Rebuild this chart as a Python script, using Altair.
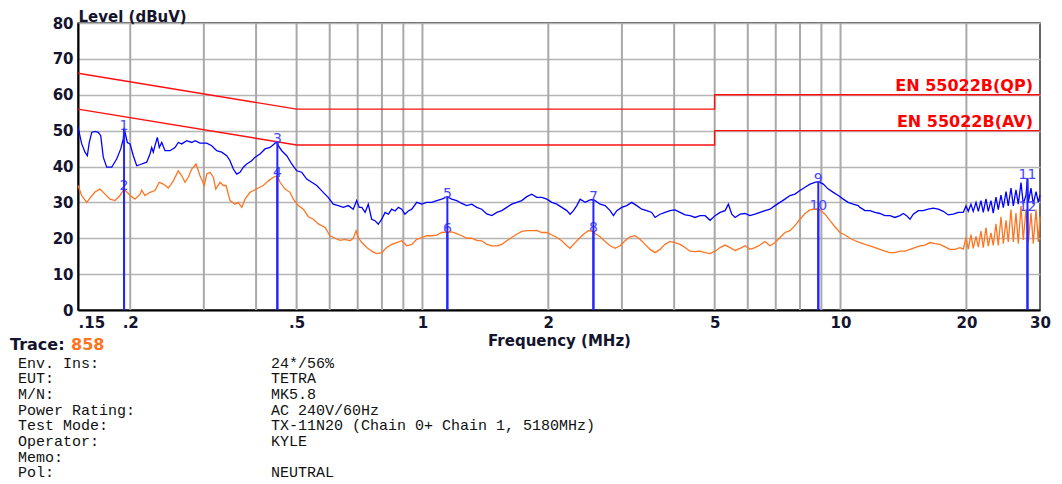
import altair as alt
import pandas as pd

# ---------------- data ----------------
qp_freq = [
    0.150, 0.1531, 0.1559, 0.1579, 0.1596, 0.1618, 0.1647, 0.1677, 0.1700, 0.1724,
    0.1757, 0.1806, 0.1856, 0.1898, 0.1925, 0.1933, 0.1968, 0.1998, 0.2034, 0.2073,
    0.2130, 0.2190, 0.2230, 0.2251, 0.2271, 0.2292, 0.2322, 0.2347, 0.2379, 0.2422,
    0.2490, 0.2559, 0.2606, 0.2656, 0.2730, 0.2806, 0.2858, 0.2937, 0.3048, 0.3133,
    0.3220, 0.3310, 0.3403, 0.3465, 0.3529, 0.3595, 0.3661, 0.3729, 0.3799, 0.3905,
    0.3977, 0.4088, 0.4202, 0.4319, 0.4440, 0.4497, 0.4521, 0.4607, 0.4736, 0.4868,
    0.5004, 0.5143, 0.5287, 0.5435, 0.5587, 0.579, 0.595, 0.612, 0.629, 0.647,
    0.665, 0.683, 0.696, 0.706, 0.716, 0.729, 0.742, 0.756, 0.770, 0.784,
    0.799, 0.814, 0.829, 0.844, 0.860, 0.876, 0.892, 0.908, 0.925, 0.943,
    0.969, 0.996, 1.024, 1.053, 1.082, 1.112, 1.147, 1.175, 1.208, 1.242,
    1.276, 1.312, 1.349, 1.386, 1.425, 1.465, 1.506, 1.548, 1.591, 1.635,
    1.681, 1.728, 1.776, 1.826, 1.877, 1.929, 1.984, 2.039, 2.096, 2.154,
    2.215, 2.255, 2.297, 2.340, 2.383, 2.450, 2.518, 2.564, 2.660, 2.735,
    2.811, 2.863, 2.917, 2.997, 3.080, 3.167, 3.255, 3.346, 3.439, 3.535,
    3.600, 3.700, 3.804, 3.910, 4.020, 4.132, 4.248, 4.366, 4.488, 4.613,
    4.742, 4.875, 5.011, 5.151, 5.295, 5.392, 5.494, 5.595, 5.751, 5.912,
    6.073, 6.243, 6.418, 6.597, 6.781, 6.971, 7.164, 7.364, 7.570, 7.781,
    8.000, 8.223, 8.453, 8.689, 8.848, 9.094, 9.348, 9.610, 9.878, 10.15,
    10.43, 10.72, 11.02, 11.13, 11.44, 11.76, 12.09, 12.42, 12.77, 13.13,
    13.49, 13.87, 14.13, 14.39, 14.66, 14.93, 15.34, 15.77, 16.21, 16.66,
    17.13, 17.61, 18.10, 18.61, 19.13, 19.66, 19.96, 20.21, 20.51, 20.77,
    21.09, 21.36, 21.67, 21.95, 22.28, 22.56, 22.90, 23.19, 23.54, 23.84,
    24.20, 24.51, 24.88, 25.19, 25.57, 25.90, 26.28, 26.62, 27.02, 27.36,
    27.77, 28.00, 28.13, 28.55, 28.91, 29.35, 29.72, 30.0,
]
qp_level = [
    51.0, 46.3, 44.0, 43.0, 46.7, 49.5, 49.8, 49.5, 48.6, 42.6,
    39.8, 39.8, 42.1, 44.9, 47.7, 50.8, 46.7, 46.3, 43.0, 40.2,
    40.7, 41.2, 43.5, 45.3, 44.0, 45.8, 48.1, 45.3, 46.7, 44.4,
    44.4, 45.3, 46.7, 46.3, 47.2, 46.7, 47.2, 46.5, 46.5, 45.8,
    44.4, 44.0, 43.0, 41.6, 39.3, 37.9, 38.4, 39.8, 40.7, 41.6,
    42.6, 43.5, 44.9, 45.3, 46.5, 46.8, 45.8, 44.4, 43.0, 40.7,
    38.8, 38.4, 36.5, 35.6, 34.7, 32.8, 31.4, 29.5, 29.1, 28.6,
    29.1, 28.1, 30.5, 28.6, 28.6, 27.2, 29.5, 25.3, 24.9, 23.9,
    25.3, 27.2, 26.7, 28.1, 27.6, 28.6, 28.1, 26.7, 27.6, 28.1,
    30.0, 29.5, 30.0, 30.0, 30.5, 30.9, 31.6, 30.9, 30.5, 29.7,
    29.1, 29.5, 28.6, 28.1, 26.8, 26.3, 27.2, 27.7, 28.6, 29.5,
    30.0, 30.5, 31.6, 32.3, 31.4, 31.4, 30.9, 30.0, 29.5, 28.6,
    27.7, 26.7, 27.7, 29.1, 30.9, 30.0, 30.7, 30.8, 29.5, 29.1,
    27.7, 26.3, 27.7, 28.6, 29.1, 30.0, 29.1, 28.1, 27.7, 27.2,
    25.8, 26.7, 27.2, 27.7, 27.9, 27.2, 26.5, 26.3, 25.8, 26.3,
    26.3, 25.0, 26.3, 27.2, 27.7, 29.5, 26.7, 25.8, 26.7, 26.9,
    26.3, 26.7, 27.2, 27.7, 28.1, 29.1, 30.0, 30.9, 31.9, 32.3,
    33.3, 34.2, 35.1, 35.6, 35.8, 35.1, 33.7, 32.8, 31.9, 30.9,
    30.0, 29.5, 29.1, 28.6, 27.7, 27.7, 27.2, 26.9, 26.3, 26.3,
    25.8, 26.3, 26.9, 26.3, 25.3, 26.7, 27.7, 27.7, 28.1, 28.4,
    28.1, 27.5, 26.5, 26.7, 27.2, 27.2, 29.0, 27.5, 29.5, 27.5,
    30.0, 27.5, 30.5, 27.2, 31.0, 27.5, 30.5, 27.0, 31.5, 28.0,
    32.0, 28.5, 33.0, 29.0, 34.0, 29.0, 33.5, 29.5, 35.5, 29.5,
    32.0, 36.8, 30.0, 34.0, 29.5, 33.0, 30.0, 32.0,
]

av_freq = [
    0.150, 0.1531, 0.1574, 0.1602, 0.1647, 0.1693, 0.1741, 0.1789, 0.1839, 0.1890,
    0.1933, 0.1998, 0.2053, 0.2111, 0.2130, 0.2170, 0.2230, 0.2292, 0.2347, 0.2400,
    0.2467, 0.2536, 0.2606, 0.2656, 0.2704, 0.2754, 0.2806, 0.2873, 0.2937, 0.3008,
    0.3048, 0.3104, 0.3161, 0.3203, 0.3280, 0.3340, 0.3390, 0.3465, 0.3562, 0.3627,
    0.3696, 0.3764, 0.3869, 0.3940, 0.4050, 0.4163, 0.4279, 0.4399, 0.4497, 0.4564,
    0.4692, 0.4822, 0.4911, 0.5048, 0.5189, 0.5334, 0.5483, 0.5636, 0.585, 0.601,
    0.618, 0.635, 0.653, 0.671, 0.683, 0.694, 0.702, 0.716, 0.736, 0.756,
    0.777, 0.799, 0.821, 0.844, 0.868, 0.892, 0.917, 0.943, 0.969, 0.996,
    1.024, 1.053, 1.082, 1.112, 1.147, 1.175, 1.208, 1.242, 1.276, 1.312,
    1.349, 1.386, 1.425, 1.465, 1.506, 1.548, 1.591, 1.635, 1.681, 1.728,
    1.776, 1.826, 1.877, 1.929, 1.984, 2.039, 2.096, 2.154, 2.215, 2.255,
    2.297, 2.361, 2.427, 2.494, 2.564, 2.588, 2.660, 2.735, 2.811, 2.890,
    2.969, 3.052, 3.137, 3.224, 3.314, 3.407, 3.503, 3.600, 3.700, 3.804,
    3.910, 4.020, 4.132, 4.248, 4.366, 4.488, 4.613, 4.742, 4.875, 5.011,
    5.151, 5.295, 5.443, 5.595, 5.751, 5.912, 6.073, 6.243, 6.418, 6.597,
    6.781, 6.971, 7.164, 7.364, 7.570, 7.781, 8.000, 8.223, 8.453, 8.689,
    8.848, 8.931, 9.180, 9.437, 9.700, 9.967, 10.25, 10.53, 10.83, 11.13,
    11.44, 11.76, 12.09, 12.42, 12.77, 13.13, 13.49, 13.87, 14.26, 14.66,
    15.07, 15.49, 15.92, 16.37, 16.82, 17.29, 17.78, 18.27, 18.78, 19.31,
    19.66, 19.96, 20.21, 20.51, 20.77, 21.09, 21.36, 21.67, 21.95, 22.28,
    22.56, 22.90, 23.19, 23.54, 23.84, 24.20, 24.51, 24.88, 25.19, 25.57,
    25.90, 26.28, 26.62, 27.02, 27.36, 27.77, 28.13, 28.55, 28.91, 29.35,
    29.72, 30.0,
]
av_level = [
    34.7, 31.9, 30.0, 31.2, 32.9, 33.7, 32.3, 30.9, 30.5, 31.9,
    33.7, 31.9, 30.9, 32.3, 33.4, 31.9, 32.8, 33.3, 35.6, 35.1,
    34.0, 36.0, 38.8, 37.4, 35.6, 37.0, 39.3, 40.7, 37.4, 34.7,
    37.9, 38.4, 37.0, 33.7, 35.6, 34.7, 34.7, 30.5, 29.5, 30.0,
    28.6, 30.9, 32.8, 33.3, 34.0, 34.7, 36.0, 37.0, 37.4, 35.6,
    33.7, 32.8, 30.9, 29.1, 28.1, 26.0, 25.3, 24.0, 23.0, 20.7,
    20.0, 19.4, 19.7, 19.3, 20.0, 22.1, 20.2, 18.8, 17.4, 16.4,
    15.7, 16.0, 17.4, 18.3, 18.8, 19.3, 17.9, 18.3, 19.7, 20.2,
    20.7, 20.7, 20.9, 21.6, 21.7, 21.8, 21.3, 20.7, 20.0, 20.0,
    19.4, 19.3, 18.3, 17.9, 17.9, 18.3, 19.3, 20.2, 21.1, 21.9,
    22.1, 22.1, 22.2, 21.6, 21.6, 20.9, 20.2, 19.3, 17.9, 17.2,
    18.3, 19.7, 21.1, 22.1, 22.0, 21.3, 20.4, 19.1, 17.9, 17.2,
    17.9, 19.3, 20.4, 20.7, 19.7, 18.3, 16.9, 16.0, 16.9, 18.3,
    19.1, 18.8, 18.3, 17.4, 16.4, 16.3, 16.4, 16.0, 15.7, 16.4,
    17.4, 18.1, 17.4, 16.6, 17.2, 17.9, 16.9, 17.4, 18.1, 19.1,
    17.9, 18.8, 20.2, 21.6, 22.1, 23.5, 25.3, 26.9, 27.9, 28.1,
    28.2, 27.9, 26.7, 24.9, 23.2, 21.6, 20.9, 20.0, 19.3, 18.8,
    18.3, 17.9, 17.4, 16.9, 16.4, 16.0, 16.0, 16.4, 16.4, 16.9,
    17.4, 17.9, 18.1, 18.8, 18.5, 18.3, 17.6, 16.9, 16.9, 17.4,
    17.0, 20.2, 17.0, 21.0, 17.2, 20.5, 17.5, 22.0, 17.4, 23.0,
    17.8, 21.5, 18.0, 24.0, 18.0, 26.0, 18.5, 25.0, 19.0, 28.0,
    19.0, 27.0, 18.5, 29.0, 19.5, 28.0, 19.0, 27.0, 18.5, 28.0,
    19.0, 26.0,
]

limit_freq = [0.15, 0.5, 5, 5, 30]
qp_limit = [66, 56, 56, 60, 60]
av_limit = [56, 46, 46, 50, 50]
limit_names = ["EN 55022B(QP)", "EN 55022B(AV)"]

marker_no = ["1", "2", "3", "4", "5", "6", "7", "8", "9", "10", "11", "12"]
marker_freq = [0.1933, 0.1933, 0.4497, 0.4497, 1.147, 1.147, 2.564, 2.564, 8.848, 8.848, 28.0, 28.0]
marker_level = [50.4, 33.7, 46.8, 37.4, 31.4, 21.7, 30.6, 22.0, 35.6, 28.2, 36.8, 28.0]

grid_freqs = [0.2, 0.3, 0.4, 0.5, 0.6, 0.7, 0.8, 0.9, 1, 2, 3, 4, 5, 6, 7, 8, 9, 10, 20]
tick_freqs = [0.15, 0.2, 0.5, 1, 2, 5, 10, 20, 30]
level_ticks = [0, 10, 20, 30, 40, 50, 60, 70, 80]

trace_no = "858"
info_labels = ["Env. Ins:", "EUT:", "M/N:", "Power Rating:", "Test Mode:", "Operator:", "Memo:", "Pol:"]
info_values = ["24*/56%", "TETRA", "MK5.8", "AC 240V/60Hz",
               "TX-11N20 (Chain 0+ Chain 1, 5180MHz)", "KYLE", "", "NEUTRAL"]

# ---------------- styling ----------------
W, H = 962, 287
TEXT = "#14142e"
BOLD = "DejaVu Sans"

x_axis = alt.Axis(
    values=tick_freqs, grid=False, domain=True, domainColor="black", domainWidth=2,
    ticks=False, tickSize=0, labelFlush=False, labelOverlap=False,
    labelExpr="datum.value < 1 ? slice(toString(datum.value), 1) : toString(datum.value)",
    labelAlign={"condition": {"test": "datum.value < 0.16", "value": "left"}, "value": "center"},
    labelFont=BOLD, labelFontWeight="bold", labelFontSize=15, labelColor=TEXT, labelPadding=5,
    title="Frequency (MHz)", titleFont=BOLD, titleFontWeight="bold", titleFontSize=15,
    titleColor=TEXT, titleY=23, titleBaseline="top",
)
y_axis = alt.Axis(
    values=level_ticks, grid=True, gridColor="#b5b5b5", gridWidth=1.5,
    domain=True, domainColor="black", domainWidth=2, ticks=False, tickSize=0,
    labelFont=BOLD, labelFontWeight="bold", labelFontSize=15, labelColor=TEXT, labelPadding=5,
    title="Level (dBuV)", titleAngle=0, titleX=0, titleY=-2, titleAlign="left",
    titleBaseline="alphabetic", titleFont=BOLD, titleFontWeight="bold", titleFontSize=15,
    titleColor=TEXT,
)
x_scale = alt.Scale(type="log", domain=[0.15, 30], nice=False)
y_scale = alt.Scale(domain=[0, 80], nice=False, zero=False)
X = alt.X("freq:Q", scale=x_scale, axis=x_axis)
Y = alt.Y("level:Q", scale=y_scale, axis=y_axis)

# ---------------- tables ----------------
qp_df = pd.DataFrame({"freq": qp_freq, "level": qp_level})
av_df = pd.DataFrame({"freq": av_freq, "level": av_level})
lim_df = pd.DataFrame({
    "freq": limit_freq * 2,
    "level": qp_limit + av_limit,
    "kind": ["QP"] * len(limit_freq) + ["AV"] * len(limit_freq),
    "idx": list(range(len(limit_freq))) * 2,
})
lim_lab_df = pd.DataFrame({
    "freq": [limit_freq[-1], limit_freq[-1]],
    "level": [qp_limit[-1], av_limit[-1]],
    "name": limit_names,
})
mk_df = pd.DataFrame({"freq": marker_freq, "level": marker_level, "no": marker_no})
grid_df = pd.DataFrame({"freq": grid_freqs})

row0, row_step = 339.5, 15.7
info_df = pd.DataFrame({
    "label": info_labels,
    "value": info_values,
    "py": [row0 + row_step * i for i in range(len(info_labels))],
})
trace_df = pd.DataFrame({"a": ["Trace:"], "b": [trace_no], "py": [322.0]})

# ---------------- layers ----------------
grid = alt.Chart(grid_df).mark_rule(color="#a9a9a9", strokeWidth=2).encode(
    x=X, y=alt.value(0), y2=alt.value(H))

limits = alt.Chart(lim_df).mark_line(color="#ff1010", strokeWidth=1.4).encode(
    x=X, y=Y, detail="kind:N", order=alt.Order("idx:Q"))

qp_line = alt.Chart(qp_df).mark_line(color="#0000ff", strokeWidth=1.3).encode(x=X, y=Y)
av_line = alt.Chart(av_df).mark_line(color="#ff7420", strokeWidth=1.3).encode(x=X, y=Y)

mk_rules = alt.Chart(mk_df).mark_rule(color="#2424ff", strokeWidth=2).encode(
    x=X, y=Y, y2=alt.datum(0))
mk_text = alt.Chart(mk_df).mark_text(
    font="DejaVu Sans", fontSize=14, color="#4848ff", baseline="alphabetic", dy=1
).encode(x=X, y=Y, text="no:N")

lim_text = alt.Chart(lim_lab_df).mark_text(
    font=BOLD, fontWeight="bold", fontSize=16, color="#ff0000",
    align="right", baseline="alphabetic", dx=-7, dy=-4
).encode(x=X, y=Y, text="name:N")

info_lab = alt.Chart(info_df).mark_text(
    font="Liberation Mono", fontSize=15, color="#111111", align="left", baseline="middle"
).encode(x=alt.value(-60), y=alt.Y("py:Q", scale=None, axis=None), text="label:N")
info_val = alt.Chart(info_df).mark_text(
    font="Liberation Mono", fontSize=15, color="#111111", align="left", baseline="middle"
).encode(x=alt.value(193), y=alt.Y("py:Q", scale=None, axis=None), text="value:N")

trace_a = alt.Chart(trace_df).mark_text(
    font=BOLD, fontWeight="bold", fontSize=16, color=TEXT, align="left", baseline="middle"
).encode(x=alt.value(-68), y=alt.Y("py:Q", scale=None, axis=None), text="a:N")
trace_b = alt.Chart(trace_df).mark_text(
    font=BOLD, fontWeight="bold", fontSize=16, color="#ff7420", align="left", baseline="middle"
).encode(x=alt.value(-7), y=alt.Y("py:Q", scale=None, axis=None), text="b:N")

chart = alt.layer(
    grid, limits, qp_line, mk_text, av_line, mk_rules, lim_text,
    info_lab, info_val, trace_a, trace_b,
).properties(
    width=W, height=H,
    autosize=alt.AutoSizeParams(type="none"),
    padding={"left": 70, "top": 15, "right": 12, "bottom": 172},
    background="white",
).configure_view(stroke="#333333", strokeWidth=1.5)

chart.save("out.html", embed_options={"renderer": "svg", "actions": False})
